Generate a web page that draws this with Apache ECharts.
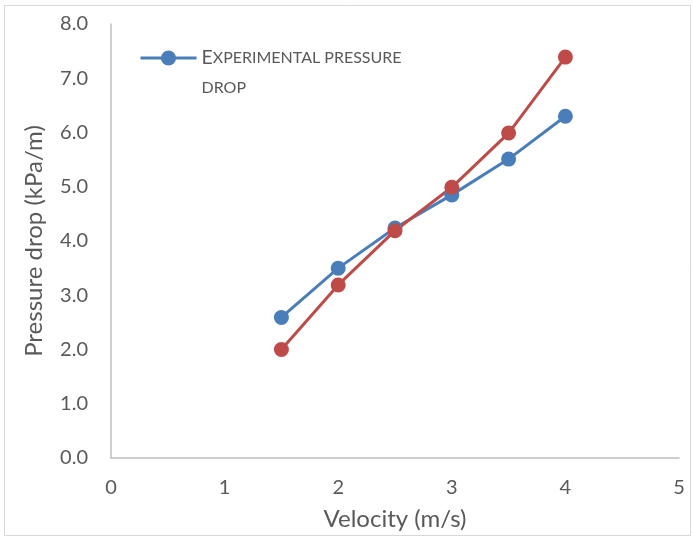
<!DOCTYPE html>
<html>
<head>
<meta charset="utf-8">
<script src="https://cdn.jsdelivr.net/npm/echarts@6/dist/echarts.min.js"></script>
<style>
  html, body { margin: 0; padding: 0; background: #fff; }
  #chart { width: 693px; height: 537px; }
</style>
</head>
<body>
<div id="chart"></div>
<script>
// velocity (m/s) vs pressure drop (kPa/m)
const velocity = [1.5, 2, 2.5, 3, 3.5, 4];
const experimental = [2.59, 3.50, 4.24, 4.85, 5.51, 6.30];
const predicted = [2.0, 3.19, 4.19, 4.99, 5.99, 7.39];
const xTicks = [0, 1, 2, 3, 4, 5];
const yTicks = [0, 1, 2, 3, 4, 5, 6, 7, 8];

const font = 'Lato';
const grey = '#595959';

var myChart = echarts.init(document.getElementById('chart'));

var option = {
    backgroundColor: '#fff',
    animation: false,
    textStyle: { fontFamily: font },
    graphic: [
        {
            type: 'rect',
            shape: { x: 4.5, y: 5.5, width: 686, height: 530 },
            style: { fill: 'none', stroke: '#D9D9D9', lineWidth: 1 },
            z: -1
        }
    ],
    grid: { left: 111, right: 14, top: 24, bottom: 79 },
    legend: {
        data: ['Experimental pressure drop'],
        left: 134,
        top: 8,
        itemWidth: 56,
        itemHeight: 19,
        itemGap: 5,
        lineStyle: { width: 3 },
        formatter: function () {
            return '\n{a|E}{b|XPERIMENTAL PRESSURE}\n{b|DROP}';
        },
        textStyle: {
            color: grey,
            fontFamily: font,
            lineHeight: 30,
            rich: {
                a: { fontSize: 19.5, color: grey, fontFamily: font, lineHeight: 30 },
                b: { fontSize: 16, color: grey, fontFamily: font, lineHeight: 30 }
            }
        }
    },
    xAxis: {
        type: 'value',
        min: 0,
        max: 5,
        interval: 1,
        name: 'Velocity (m/s)',
        nameLocation: 'middle',
        nameGap: 49,
        nameTextStyle: { fontSize: 24, color: grey, fontFamily: font },
        axisLine: { show: true, lineStyle: { color: '#BFBFBF', width: 1.5 } },
        axisTick: { show: false },
        splitLine: { show: false },
        axisLabel: {
            fontSize: 20,
            color: grey,
            margin: 20,
            fontFamily: font,
            formatter: function (v) { return xTicks.indexOf(v) >= 0 ? String(v) : ''; }
        }
    },
    yAxis: {
        type: 'value',
        min: 0,
        max: 8,
        interval: 1,
        name: 'Pressure drop (kPa/m)',
        nameLocation: 'middle',
        nameRotate: 90,
        nameGap: 65,
        nameTextStyle: { fontSize: 24, color: grey, fontFamily: font },
        axisLine: { show: true, lineStyle: { color: '#BFBFBF', width: 1.5 } },
        axisTick: { show: false },
        splitLine: { show: false },
        axisLabel: {
            fontSize: 20,
            color: grey,
            margin: 23,
            fontFamily: font,
            formatter: function (v) { return yTicks.indexOf(v) >= 0 ? v.toFixed(1) : ''; }
        }
    },
    series: [
        {
            name: 'Experimental pressure drop',
            type: 'line',
            data: velocity.map((v, i) => [v, experimental[i]]),
            symbol: 'circle',
            symbolSize: 15,
            color: '#4A7EBB',
            lineStyle: { width: 3, color: '#4A7EBB' },
            itemStyle: { color: '#4A7EBB' }
        },
        {
            name: 'Predicted pressure drop',
            type: 'line',
            data: velocity.map((v, i) => [v, predicted[i]]),
            symbol: 'circle',
            symbolSize: 15,
            color: '#BE4B48',
            lineStyle: { width: 3, color: '#BE4B48' },
            itemStyle: { color: '#BE4B48' }
        }
    ]
};

option && myChart.setOption(option);
</script>
</body>
</html>
